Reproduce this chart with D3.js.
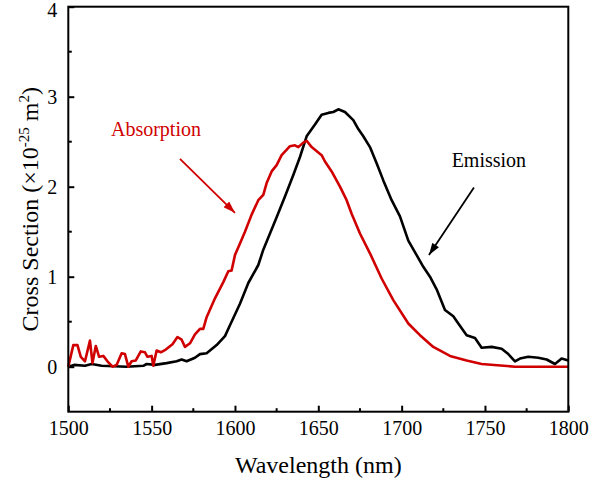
<!DOCTYPE html>
<html>
<head>
<meta charset="utf-8">
<script src="https://cdn.jsdelivr.net/npm/d3@7"></script>
<style>
  body { margin: 0; background: #fff; }
  svg text { font-family: 'Liberation Serif', 'DejaVu Serif', serif; }
</style>
</head>
<body>
<div class="canvas"></div>
<script>
// absorption cross section (red)
const absWl = [1500, 1503, 1505.5, 1507.5, 1510, 1513, 1514.5, 1516.5, 1518.5, 1521, 1523.5, 1526.5, 1529, 1532, 1534, 1536, 1538, 1540.5, 1543.5, 1546, 1547.5, 1550, 1551, 1553, 1555.5, 1558.5, 1562.5, 1565.5, 1568, 1570, 1573, 1576, 1579, 1581, 1583, 1588, 1593, 1596, 1598, 1600, 1603, 1606, 1610, 1614, 1617, 1619, 1622, 1625, 1628, 1633, 1636, 1638, 1641, 1643, 1646, 1650, 1652, 1654, 1658, 1663, 1667, 1670, 1675, 1681, 1688, 1695, 1704, 1711, 1719, 1729, 1739, 1748, 1768, 1800];
const absVal = [0.0, 0.24, 0.24, 0.11, 0.06, 0.29, 0.04, 0.23, 0.11, 0.12, 0.06, 0.0, 0.02, 0.15, 0.14, 0.0, 0.06, 0.07, 0.17, 0.16, 0.11, 0.12, 0.01, 0.18, 0.16, 0.19, 0.25, 0.33, 0.30, 0.22, 0.26, 0.36, 0.42, 0.42, 0.55, 0.76, 0.94, 1.06, 1.07, 1.24, 1.37, 1.50, 1.69, 1.85, 1.91, 2.04, 2.17, 2.24, 2.35, 2.45, 2.46, 2.44, 2.49, 2.51, 2.44, 2.38, 2.35, 2.28, 2.17, 2.0, 1.85, 1.70, 1.48, 1.26, 0.98, 0.74, 0.48, 0.35, 0.22, 0.12, 0.07, 0.03, 0.0, 0.0];

// emission cross section (black)
const emiWl = [1500, 1503.5, 1510, 1514, 1520, 1535, 1545, 1547, 1552, 1559, 1565, 1568, 1571, 1576, 1579, 1583, 1589, 1594, 1597, 1603, 1608, 1614, 1617, 1621, 1625, 1630, 1635, 1639, 1643, 1648, 1652, 1656, 1659, 1662, 1666, 1671, 1674, 1677, 1681, 1685, 1689, 1694, 1699, 1704, 1709, 1713, 1717, 1721, 1726, 1731, 1734, 1739, 1744, 1748, 1754, 1760, 1764, 1768, 1771, 1776, 1782, 1787, 1792, 1796, 1800];
const emiVal = [0.0, 0.02, 0.01, 0.03, 0.01, 0.0, 0.01, 0.03, 0.02, 0.04, 0.06, 0.08, 0.06, 0.10, 0.14, 0.15, 0.24, 0.34, 0.46, 0.70, 0.93, 1.13, 1.30, 1.48, 1.66, 1.89, 2.13, 2.33, 2.56, 2.69, 2.80, 2.82, 2.83, 2.86, 2.83, 2.74, 2.64, 2.56, 2.44, 2.26, 2.07, 1.85, 1.67, 1.40, 1.24, 1.11, 1.0, 0.86, 0.63, 0.56, 0.48, 0.35, 0.32, 0.21, 0.22, 0.20, 0.14, 0.06, 0.09, 0.11, 0.10, 0.08, 0.03, 0.09, 0.07];

const xTicks = [1500, 1550, 1600, 1650, 1700, 1750, 1800];
const yTicks = [0, 1, 2, 3, 4];

// annotation labels and arrows, in data units
const notes = [
  { text: 'Absorption', colour: '#d00000', tx: 1525.6, ty: 2.56, x1: 1567, y1: 2.31, x2: 1600, y2: 1.71 },
  { text: 'Emission', colour: '#000', tx: 1730, ty: 2.22, x1: 1743.4, y1: 1.99, x2: 1716.4, y2: 1.24 }
];

const serif = "'Liberation Serif', 'DejaVu Serif', serif";
const size = { width: 614, height: 486 };
const margin = { top: 6.7, right: 45.7, bottom: 74.3, left: 68.3 };
const w = size.width - margin.left - margin.right;
const h = size.height - margin.top - margin.bottom;

const svg = d3.select('.canvas')
  .append('svg')
  .attr('width', size.width)
  .attr('height', size.height)
  .style('font-family', serif);

const graph = svg.append('g')
  .attr('transform', `translate(${margin.left}, ${margin.top})`);

const x = d3.scaleLinear().domain([1500, 1800]).range([0, w]);
const y = d3.scaleLinear().domain([-0.5, 4]).range([h, 0]);

// arrow heads
const defs = svg.append('defs');
notes.forEach((n, i) => {
  defs.append('marker')
    .attr('id', 'head' + i)
    .attr('viewBox', '0 0 12 8')
    .attr('refX', 12).attr('refY', 4)
    .attr('markerUnits', 'userSpaceOnUse')
    .attr('markerWidth', 13).attr('markerHeight', 8)
    .attr('orient', 'auto')
    .append('path')
      .attr('d', 'M0,0 L12,4 L0,8 Z')
      .attr('fill', n.colour);
});

// minor ticks (inward)
const xMinor = d3.range(1525, 1800, 50);
const yMinor = d3.range(0.5, 4, 1);

const xAxis = d3.axisBottom(x).tickValues(xTicks).tickSizeInner(-6).tickSizeOuter(0).tickPadding(9).tickFormat(d3.format('d'));
const yAxis = d3.axisLeft(y).tickValues(yTicks).tickSizeInner(-6).tickSizeOuter(0).tickPadding(11).tickFormat(d3.format('d'));

const gx = graph.append('g').attr('transform', `translate(0, ${h})`).call(xAxis);
const gy = graph.append('g').call(yAxis);

[gx, gy].forEach(g => {
  g.attr('font-family', null);
  g.select('.domain').remove();
  g.selectAll('line').attr('stroke', '#000').attr('stroke-width', 2);
  g.selectAll('text').attr('font-size', 20).attr('fill', '#000').style('font-family', serif);
});
gx.selectAll('text').attr('dy', '0.71em');
gy.selectAll('text').attr('dy', d => d === 4 ? '0.5em' : '0.34em');

graph.selectAll('.xminor').data(xMinor).enter().append('line')
  .attr('x1', d => x(d)).attr('x2', d => x(d))
  .attr('y1', h).attr('y2', h - 3.5)
  .attr('stroke', '#000').attr('stroke-width', 2);
graph.selectAll('.yminor').data(yMinor).enter().append('line')
  .attr('x1', 0).attr('x2', 3.5)
  .attr('y1', d => y(d)).attr('y2', d => y(d))
  .attr('stroke', '#000').attr('stroke-width', 2);

// curves
const line = d3.line().x(d => x(d[0])).y(d => y(d[1]));
const absData = absWl.map((d, i) => [d, absVal[i]]);
const emiData = emiWl.map((d, i) => [d, emiVal[i]]);

graph.append('path').datum(emiData)
  .attr('d', line).attr('fill', 'none')
  .attr('stroke', '#000').attr('stroke-width', 2.6)
  .attr('stroke-linejoin', 'round');
graph.append('path').datum(absData)
  .attr('d', line).attr('fill', 'none')
  .attr('stroke', '#d00000').attr('stroke-width', 2.6)
  .attr('stroke-linejoin', 'round');

// frame
graph.append('rect')
  .attr('width', w).attr('height', h)
  .attr('fill', 'none').attr('stroke', '#000').attr('stroke-width', 2);

// annotations
notes.forEach((n, i) => {
  graph.append('text')
    .attr('x', x(n.tx)).attr('y', y(n.ty))
    .attr('font-size', 20).attr('fill', n.colour)
    .text(n.text);
  graph.append('line')
    .attr('x1', x(n.x1)).attr('y1', y(n.y1))
    .attr('x2', x(n.x2)).attr('y2', y(n.y2))
    .attr('stroke', n.colour).attr('stroke-width', 1.8)
    .attr('marker-end', `url(#head${i})`);
});

// axis titles
svg.append('text')
  .attr('x', margin.left + w / 2).attr('y', 473)
  .attr('text-anchor', 'middle').attr('font-size', 24)
  .text('Wavelength (nm)');

const yTitle = svg.append('text')
  .attr('transform', `translate(38, ${margin.top + h / 2}) rotate(-90)`)
  .attr('text-anchor', 'middle').attr('font-size', 24);
yTitle.append('tspan').text('Cross Section (\u00d710');
yTitle.append('tspan').attr('dy', -9).attr('font-size', 15).text('-25');
yTitle.append('tspan').attr('dy', 9).text(' m');
yTitle.append('tspan').attr('dy', -9).attr('font-size', 15).text('2');
yTitle.append('tspan').attr('dy', 9).text(')');
</script>
</body>
</html>
